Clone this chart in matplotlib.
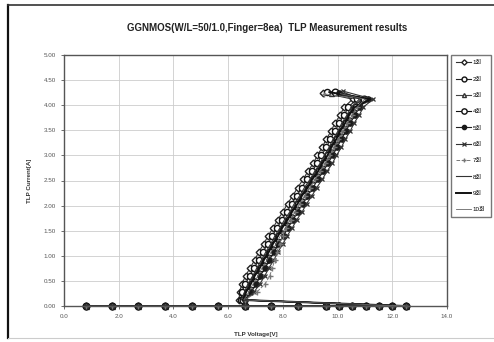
import matplotlib
matplotlib.use("Agg")
import matplotlib.pyplot as plt
from matplotlib.lines import Line2D

plt.rcParams['font.family'] = ['Liberation Sans', 'Noto Sans CJK KR', 'DejaVu Sans']

# pre-trigger pulses (current ~0) shared by all runs
pre_v = [0.82, 1.77, 2.72, 3.69, 4.67, 5.64, 6.60, 7.55, 8.56, 9.56,
         10.05, 10.54, 11.03, 11.51, 12.00, 12.49]
pre_i = [0.0] * len(pre_v)

# after snapback: current levels of the rising branch
rise_i = [0.12, 0.28, 0.44, 0.60, 0.76, 0.92, 1.08, 1.24, 1.40, 1.56, 1.72, 1.88, 2.04,
          2.20, 2.36, 2.52, 2.68, 2.84, 3.00, 3.16, 3.32, 3.48, 3.64, 3.80, 3.96, 4.12]

v1 = [6.40, 6.42, 6.50, 6.64, 6.80, 6.98, 7.12, 7.31, 7.46, 7.65, 7.81, 8.01, 8.17,
      8.37, 8.54, 8.74, 8.91, 9.11, 9.26, 9.44, 9.58, 9.76, 9.90, 10.09, 10.24, 10.55]
v2 = [6.48, 6.50, 6.63, 6.79, 6.95, 7.13, 7.27, 7.46, 7.61, 7.80, 7.96, 8.16, 8.32,
      8.52, 8.69, 8.89, 9.06, 9.26, 9.41, 9.59, 9.73, 9.91, 10.05, 10.24, 10.39, 10.70]
v3 = [6.52, 6.63, 6.78, 6.92, 7.11, 7.26, 7.44, 7.60, 7.78, 7.93, 8.13, 8.29, 8.49,
      8.66, 8.85, 9.03, 9.22, 9.41, 9.56, 9.74, 9.88, 10.06, 10.21, 10.39, 10.55, 10.88]
v4 = [6.56, 6.73, 6.86, 7.04, 7.19, 7.38, 7.52, 7.71, 7.86, 8.05, 8.21, 8.41, 8.57,
      8.77, 8.94, 9.14, 9.31, 9.51, 9.66, 9.84, 9.98, 10.16, 10.31, 10.49, 10.66, 10.98]
v5 = [6.60, 6.85, 7.03, 7.17, 7.36, 7.51, 7.69, 7.84, 8.03, 8.18, 8.38, 8.54, 8.74,
      8.90, 9.11, 9.27, 9.48, 9.64, 9.83, 9.97, 10.15, 10.29, 10.47, 10.62, 10.81, 11.10]
v6 = [6.62, 6.95, 7.16, 7.34, 7.49, 7.68, 7.82, 8.01, 8.16, 8.35, 8.51, 8.71, 8.87,
      9.07, 9.24, 9.44, 9.61, 9.81, 9.96, 10.14, 10.28, 10.46, 10.60, 10.79, 10.94, 11.30]
v7 = [6.62, 7.05, 7.35, 7.52, 7.62, 7.70, 7.78, 7.88, 8.00, 8.12, 8.28, 8.44, 8.62,
      8.80, 8.98, 9.17, 9.35, 9.53, 9.70, 9.86, 10.02, 10.18, 10.34, 10.52, 10.70, 11.05]
v8 = [6.48, 6.60, 6.72, 6.90, 7.05, 7.22, 7.38, 7.56, 7.71, 7.90, 8.06, 8.26, 8.42,
      8.62, 8.79, 8.99, 9.16, 9.36, 9.51, 9.69, 9.83, 10.01, 10.15, 10.34, 10.49, 10.80]
v9 = [6.54, 6.66, 6.83, 6.97, 7.16, 7.31, 7.49, 7.64, 7.83, 7.98, 8.18, 8.34, 8.54,
      8.70, 8.91, 9.07, 9.28, 9.44, 9.63, 9.77, 9.95, 10.09, 10.27, 10.42, 10.62, 11.20]
v10 = [6.57, 6.76, 6.91, 7.09, 7.24, 7.43, 7.57, 7.76, 7.91, 8.10, 8.26, 8.46, 8.62,
       8.82, 8.99, 9.19, 9.36, 9.56, 9.71, 9.89, 10.03, 10.21, 10.36, 10.54, 10.71, 11.00]

# failure point of each run
fail_v = [9.45, 9.60, 9.75, 9.90, 10.05, 10.20, 9.50, 10.30, 9.70, 10.10]
fail_i = [4.25, 4.27, 4.24, 4.26, 4.25, 4.28, 4.22, 4.24, 4.26, 4.23]

labels = ['1회', '2회', '3회', '4회', '5회', '6회', '7회', '8회', '9회', '10회']
rise_v = [v1, v2, v3, v4, v5, v6, v7, v8, v9, v10]

styles = [
    dict(marker='D', ms=3.4, mfc='white', mec='#222222', color='#333333', lw=0.8),
    dict(marker='o', ms=4.4, mfc='white', mec='#111111', color='#222222', lw=0.8),
    dict(marker='^', ms=3.6, mfc='white', mec='#333333', color='#444444', lw=0.8),
    dict(marker='o', ms=4.8, mfc='white', mec='#111111', color='#111111', lw=0.8),
    dict(marker='o', ms=3.8, mfc='#1a1a1a', mec='#1a1a1a', color='#222222', lw=0.8),
    dict(marker='x', ms=3.4, mew=0.9, color='#333333', lw=0.8),
    dict(marker='+', ms=3.6, color='#777777', lw=0.7, ls='--'),
    dict(marker=None, color='#333333', lw=0.8),
    dict(marker=None, color='#111111', lw=1.4),
    dict(marker=None, color='#666666', lw=0.6),
]

fig = plt.figure(figsize=(4.94, 3.42), dpi=100)
ax = fig.add_axes([64 / 494, 36 / 342, 383 / 494, 251 / 342])

for k in range(10):
    xs = pre_v + rise_v[k] + [fail_v[k]]
    ys = pre_i + rise_i + [fail_i[k]]
    ax.plot(xs, ys, label=labels[k], clip_on=False, **styles[k])

ax.set_xlim(0, 14)
ax.set_ylim(0, 5)
ax.set_xticks([0, 2, 4, 6, 8, 10, 12, 14])
ax.set_yticks([0, 0.5, 1, 1.5, 2, 2.5, 3, 3.5, 4, 4.5, 5])
ax.set_xticklabels(['%.1f' % t for t in ax.get_xticks()])
ax.set_yticklabels(['%.2f' % t for t in ax.get_yticks()])
ax.tick_params(labelsize=4.5, length=2, width=0.6, colors='#555555', pad=4)
ax.grid(color='#cccccc', lw=0.6)
ax.set_axisbelow(True)
for s in ax.spines.values():
    s.set_color('#555555')
    s.set_linewidth(1.0)

ax.set_xlabel('TLP Voltage[V]', fontsize=4.5, fontweight='bold', color='#333333')
ax.set_ylabel('TLP Current[A]', fontsize=4.5, fontweight='bold', color='#333333')
ax.xaxis.set_label_coords(0.5, -0.104)
ax.yaxis.set_label_coords(-0.084, 0.5)

fig.text(0.54, 1 - 28 / 342, 'GGNMOS(W/L=50/1.0,Finger=8ea)  TLP Measurement results',
         ha='center', va='center', fontsize=7, fontweight='bold', color='#222222')

leg = fig.legend(loc='upper left', bbox_to_anchor=(451 / 494, 1 - 55 / 342),
                 fontsize=4.5, frameon=True, fancybox=False, labelspacing=1.75,
                 handlelength=2.4, handletextpad=0.3, borderpad=0.8,
                 borderaxespad=0, markerscale=0.8)
leg.get_frame().set_edgecolor('#555555')
leg.get_frame().set_linewidth(1.0)

# outer chart frame
fig.add_artist(Line2D([8 / 494, 8 / 494], [4 / 342, 1 - 5 / 342], color='#111111', lw=1.6))
fig.add_artist(Line2D([8 / 494, 1], [1 - 5 / 342, 1 - 5 / 342], color='#333333', lw=1.2))
fig.add_artist(Line2D([8 / 494, 1], [4 / 342, 4 / 342], color='#cccccc', lw=0.8))

fig.savefig('out.png', dpi=100)
